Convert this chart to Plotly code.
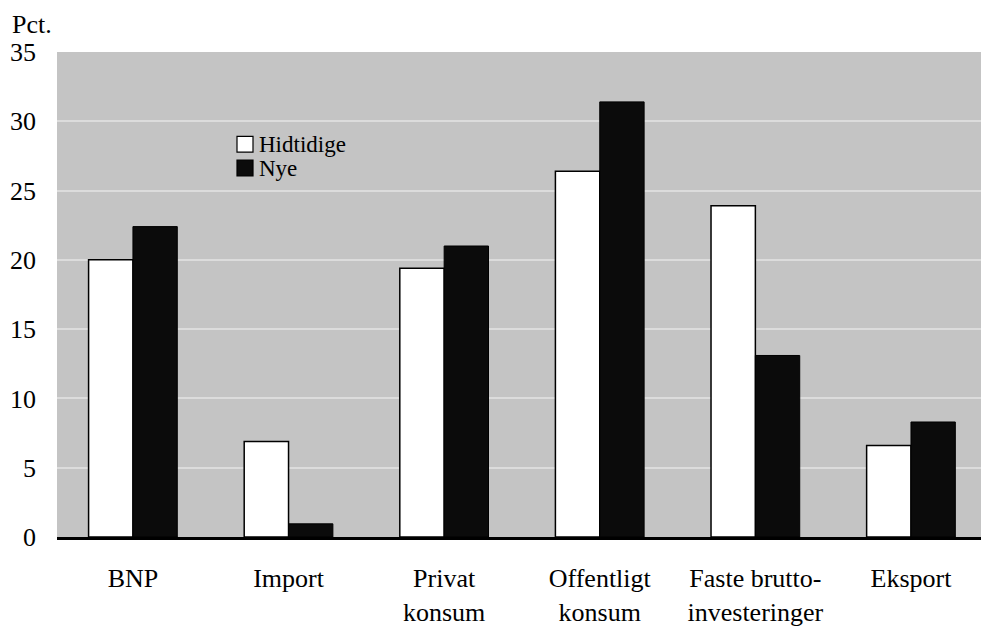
import plotly.graph_objects as go

# data
categories = ["BNP", "Import", "Privat<br>konsum", "Offentligt<br>konsum",
              "Faste brutto-<br>investeringer", "Eksport"]
hidtidige = [20.0, 6.9, 19.4, 26.4, 23.9, 6.6]
nye = [22.4, 0.95, 21.0, 31.4, 13.1, 8.3]
y_ticks = [0, 5, 10, 15, 20, 25, 30, 35]

FONT = "Liberation Serif, Times New Roman, serif"

# plot area in pixels (981x627 window)
L, R, T, B = 57, 0, 52, 86
W, H = 981, 627
pw, ph = W - L - R, H - T - B


def px(x):
    return (x - L) / pw


def py(y):
    return (H - B - y) / ph


fig = go.Figure()
fig.add_trace(go.Bar(
    x=categories, y=hidtidige, name="Hidtidige",
    marker=dict(color="white", line=dict(color="black", width=1.5)),
))
fig.add_trace(go.Bar(
    x=categories, y=nye, name="Nye",
    marker=dict(color="#0b0b0b", line=dict(color="black", width=1)),
))

# manual legend, rows are tighter than plotly's own legend
legend_rows = [("Hidtidige", "white", 145), ("Nye", "#0b0b0b", 169)]
shapes = []
annotations = []
for label, col, yc in legend_rows:
    shapes.append(dict(type="rect", xref="paper", yref="paper",
                       x0=px(237), x1=px(253), y0=py(yc + 8), y1=py(yc - 8),
                       fillcolor=col, line=dict(color="black", width=1.2)))
    annotations.append(dict(text=label, xref="paper", yref="paper",
                            x=px(257), y=py(yc), xanchor="left", yanchor="middle",
                            showarrow=False,
                            font=dict(size=23, color="black", family=FONT)))

annotations.append(dict(text="Pct.", xref="paper", yref="paper",
                        x=px(10), y=py(24), xanchor="left", yanchor="middle",
                        showarrow=False, font=dict(size=26, color="black", family=FONT)))

fig.update_layout(
    width=W, height=H,
    margin=dict(l=L, r=R, t=T, b=B),
    paper_bgcolor="white",
    plot_bgcolor="#c4c4c4",
    barmode="group",
    bargap=0.43,
    bargroupgap=0,
    showlegend=False,
    font=dict(family=FONT, size=26, color="black"),
    shapes=shapes,
    annotations=annotations,
    xaxis=dict(
        range=[-0.488, 5.45],
        showgrid=False,
        showline=True, linecolor="black", linewidth=3,
        ticks="", ticklabelstandoff=16,
        tickfont=dict(size=26, family=FONT),
    ),
    yaxis=dict(
        range=[0, 35],
        tickvals=y_ticks,
        showgrid=True, gridcolor="#dcdcdc", gridwidth=2,
        zeroline=False,
        showline=False,
        ticks="", ticklabelstandoff=20,
        tickfont=dict(size=26, family=FONT),
    ),
)

# the page's default body margin would push the fixed-size figure off by 8px
fig.write_html("out.html", config={"displayModeBar": False},
               post_script="document.body.style.margin='0';document.body.style.overflow='hidden';")
